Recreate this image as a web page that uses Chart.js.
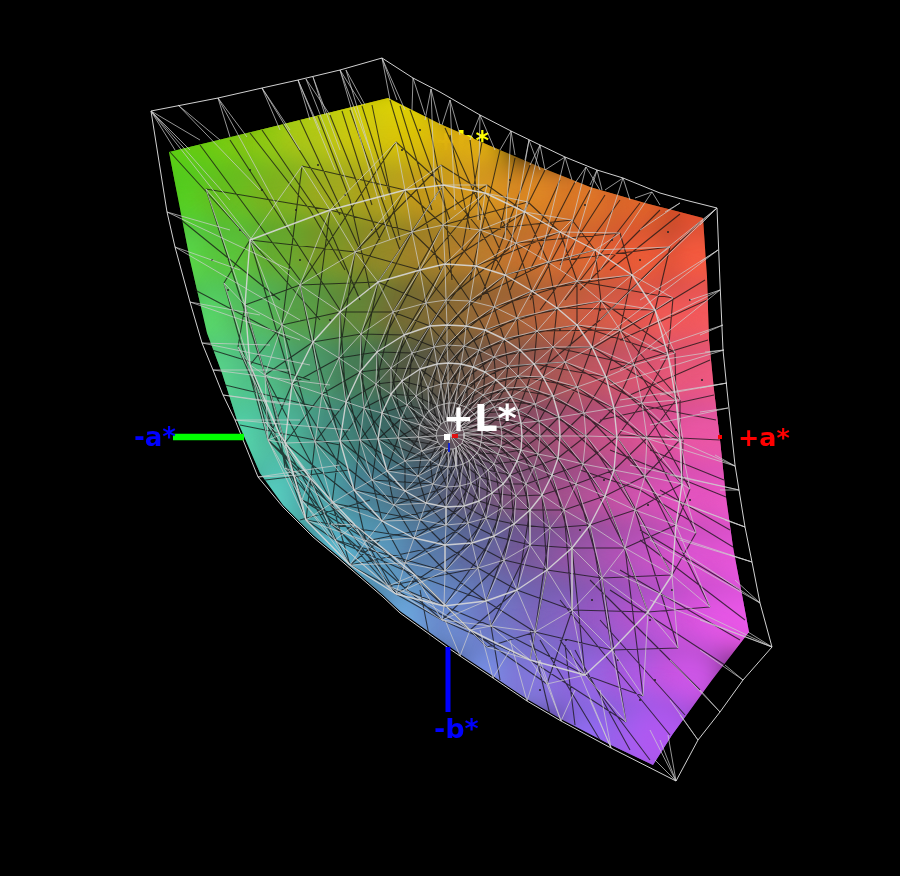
<!DOCTYPE html>
<html>
<head>
<meta charset="utf-8">
<title>Gamut</title>
<script src="https://cdn.jsdelivr.net/npm/chart.js@4/dist/chart.umd.min.js"></script>
<style>
  html, body { margin: 0; background: #000; }
  canvas { display: block; }
</style>
</head>
<body>
<canvas id="gamut" width="900" height="876"></canvas>
<script>
// all values, in picture units
var surfaceEdge = [169,152, 280,125, 388,98, 440,124, 493,147, 540,167, 590,187, 645,203, 703,218, 707,277, 709,340, 714,390, 720,440, 726,497, 733,547, 749,632, 712,680, 672,735, 653,765, 611,745, 561,719, 527,699, 493,676, 460,654, 400,611, 383,595, 337,555, 313,535, 283,505, 260,473, 237,420, 222,373, 207,333, 190,260];
var wireEdge = [151,111, 218,98, 262,88, 298,80, 340,70, 382,58, 413,78, 440,92, 480,115, 511,131, 540,145, 565,157, 597,170, 623,178, 660,193, 685,200, 717,208, 720,283, 723,350, 727,390, 735,465, 739,490, 745,527, 752,562, 760,603, 772,647, 743,680, 720,712, 698,740, 676,781, 611,748, 561,721, 527,701, 493,678, 460,656, 447,647, 400,613, 383,597, 337,557, 313,537, 283,507, 258,477, 235,420, 223,395, 213,370, 202,343, 190,302, 175,247, 167,212, 151,111];

var patchX = [300,350,400, 170,220,270,320,370,420,470, 190,240,290,340,390,440,490,540,590,640,700, 190,240,290,340,390,440,490,540,590,640,700, 215,265,315,365,415,465,515,565,615,665,710, 220,270,320,370,420,470,520,570,620,670,720, 245,295,345,395,445,495,545,595,645,695,735, 280,330,380,430,480,530,580,630,680,730, 340,390,440,490,540,590,640,690,740, 410,460,510,560,610,660,710,755, 490,540,590,640,690, 590,640,670];
var patchY = [120,120,120, 150,150,150,150,150,150,150, 200,200,200,200,200,200,200,200,200,200,200, 260,260,260,260,260,260,260,260,260,260,260, 320,320,320,320,320,320,320,320,320,320,320, 380,380,380,380,380,380,380,380,380,380,380, 440,440,440,440,440,440,440,440,440,440,440, 500,500,500,500,500,500,500,500,500,500, 560,560,560,560,560,560,560,560,560, 620,620,620,620,620,620,620,620, 680,680,680,680,680, 740,740,740];
var patchColor = ['#a8cf08','#ccd604','#e3da00',
  '#58cf10','#70cd10','#8ecb12','#b0c818','#cfc810','#dcc508','#e0b010',
  '#55d020','#67c020','#80b420','#a0ac20','#b4a41e','#c89c1c','#d89a20','#de8a24','#de7a28','#dd682a','#e04e26',
  '#58d84a','#5bc83c','#68ad30','#7e9a28','#958c28','#a8842a','#bc7e2e','#cc7430','#dc6a32','#ea5c36','#f45a3e',
  '#58d868','#56bf60','#5aa248','#648a3a','#786f35','#8c6b35','#a46838','#bf643e','#d85e48','#ee5a52','#f45a5c',
  '#5ad88c','#52c288','#4ea070','#477e58','#565a45','#6d5a48','#8c5a4e','#ae5a58','#ca5868','#e45877','#f05a80',
  '#55d8ac','#50bb9e','#468f82','#3c6c68','#555255','#72505e','#95506e','#ba5280','#d85492','#e856a2','#ec58a6',
  '#58d0c0','#4eaaac','#4b8398','#4f6a80','#635a7a','#84557e','#a85290','#c853a6','#e054bc','#ea56c4',
  '#5bbcd0','#5b9cc0','#5a7eac','#6268a0','#785a9c','#9856a8','#b854bc','#d854ce','#e656d8',
  '#6aa8dc','#6c8cd0','#7276c4','#8065c0','#9a5ac8','#bc55d4','#dc55e0','#ea58e8',
  '#7690e4','#8278dc','#9068e0','#aa5ce2','#cd56e6',
  '#906ef0','#9c62f0','#b058f0'];

// mesh rings, same vertex count, centre outwards
var meshCentre = [450,435];
var ring0 = [447,421, 450,421, 452,421, 454,422, 457,423, 459,424, 461,426, 462,428, 463,430, 464,433, 464,435, 464,438, 463,440, 462,443, 460,445, 458,446, 456,448, 453,449, 449,449, 445,448, 441,446, 438,442, 436,436, 437,431, 439,427, 441,424, 444,422];
var ringA = [444,404, 449,403, 455,403, 460,405, 466,407, 470,410, 474,414, 477,418, 480,424, 482,430, 482,435, 481,442, 480,447, 477,453, 473,457, 469,461, 463,464, 456,466, 448,467, 439,465, 430,460, 422,451, 418,437, 420,425, 424,417, 429,411, 437,406];
var ringAB = [441,384, 448,383, 458,384, 467,386, 475,390, 483,395, 490,401, 494,407, 499,417, 501,427, 502,436, 501,446, 498,454, 494,464, 488,470, 480,477, 471,483, 460,486, 447,487, 433,484, 418,476, 405,461, 398,438, 401,419, 407,405, 416,396, 428,388];
var ringB = [437,364, 448,363, 461,364, 473,367, 485,372, 496,380, 505,388, 511,397, 518,410, 521,423, 522,436, 521,450, 517,461, 510,475, 503,484, 492,493, 479,501, 464,506, 446,507, 426,503, 405,491, 387,471, 378,439, 382,413, 391,394, 402,381, 420,369];
var ringBC = [434,347, 447,345, 464,346, 479,350, 494,357, 508,366, 518,376, 527,387, 535,404, 539,421, 540,436, 538,454, 534,467, 526,484, 516,496, 502,508, 486,518, 468,523, 446,525, 420,520, 394,505, 372,480, 360,440, 364,408, 376,384, 391,368, 412,353];
var ringC = [430,326, 447,325, 466,326, 485,330, 504,339, 520,350, 534,364, 543,377, 553,396, 559,417, 560,436, 558,458, 552,475, 542,495, 530,510, 514,524, 494,536, 472,543, 445,545, 414,538, 382,521, 354,490, 340,441, 346,402, 360,372, 377,352, 404,335];
var ringCD = [426,303, 446,300, 470,301, 494,307, 517,318, 537,331, 553,347, 565,362, 577,387, 584,413, 586,436, 583,464, 576,484, 564,510, 550,528, 530,545, 504,560, 478,568, 445,571, 405,563, 366,541, 332,503, 315,442, 322,394, 339,358, 361,334, 393,312];
var ringD = [420,270, 445,264, 476,266, 505,275, 532,291, 557,308, 577,325, 592,347, 606,377, 614,408, 617,437, 614,470, 605,496, 590,525, 572,548, 547,570, 517,590, 486,601, 444,606, 396,594, 350,565, 306,520, 285,443, 292,384, 313,342, 340,312, 378,282];
var ringDE = [412,232, 443,225, 480,230, 516,243, 548,262, 577,281, 601,301, 620,330, 634,365, 642,403, 647,438, 645,476, 635,510, 625,548, 602,578, 572,610, 535,632, 491,626, 442,620, 388,586, 335,540, 302,500, 268,440, 265,375, 282,325, 300,285, 355,252];
var ringE = [405,190, 443,185, 485,193, 525,212, 560,232, 595,250, 632,275, 655,310, 668,355, 676,400, 680,440, 682,484, 676,525, 672,575, 648,612, 612,650, 585,675, 530,660, 470,630, 415,575, 355,525, 310,478, 280,435, 250,365, 245,305, 250,240, 330,210];
var ringF = [396,142, 441,165, 487,185, 528,202, 572,220, 620,233, 670,247, 673,298, 675,353, 680,400, 683,440, 690,489, 696,533, 710,607, 678,648, 643,696, 626,722, 547,684, 487,647, 406,590, 331,524, 285,468, 265,422, 238,347, 224,283, 206,189, 302,166];
var meshRings = [ring0, ringA, ringAB, ringB, ringBC, ringC, ringCD, ringD, ringDE, ringE, ringF];
var boldRings = [ringB, ringC, ringD, ringE];

// apex on the outer wire, then the points it fans out to
var wireFans = [
  [151,111, 190,150, 230,200, 175,150, 260,250, 200,140],
  [178,105, 220,140, 260,190],
  [218,98, 247,137, 230,137, 290,230],
  [262,88, 290,130, 300,150, 280,130],
  [298,80, 320,130, 335,170, 310,120],
  [306,79, 330,115, 350,190],
  [313,77, 325,115, 340,150],
  [340,70, 362,105, 370,150, 390,240],
  [346,70, 365,105, 385,200],
  [382,58, 397,100, 405,110, 390,100],
  [413,78, 412,110, 425,115],
  [431,89, 425,120, 440,125, 435,200],
  [450,100, 442,125, 460,135, 455,210],
  [480,115, 470,140, 495,150, 478,220],
  [511,131, 500,150, 515,155, 505,240],
  [529,140, 525,160, 540,170, 510,250],
  [540,145, 530,165, 545,170, 520,230],
  [565,157, 545,170, 572,180, 540,260],
  [586,167, 575,183, 600,190, 560,270],
  [597,170, 590,185, 602,190, 570,260],
  [623,178, 605,190, 630,200, 590,280],
  [652,192, 635,198, 660,205, 600,270],
  [680,203, 665,212, 640,230],
  [717,208, 700,225, 640,270, 600,320, 680,240],
  [718,250, 700,262, 640,300, 600,340],
  [720,290, 690,300, 640,330, 620,370],
  [723,325, 700,335, 650,350],
  [724,350, 705,352, 660,360, 610,385],
  [727,383, 700,388, 660,395, 620,400],
  [728,408, 700,412, 650,425],
  [735,466, 715,455, 665,435, 620,430],
  [739,490, 720,490, 670,475, 630,465],
  [745,527, 725,520, 675,500, 620,480],
  [752,562, 730,555, 680,540, 640,525],
  [760,603, 735,580, 680,550, 650,540],
  [772,647, 748,632, 700,620, 650,600, 610,570],
  [743,680, 725,665, 700,650],
  [720,712, 700,690, 670,660],
  [698,740, 680,715, 670,700],
  [676,781, 660,740, 655,760, 650,730, 668,735],
  [611,748, 590,700, 570,650, 600,690],
  [561,721, 540,660, 575,690, 530,640],
  [527,701, 510,640, 540,660],
  [493,678, 480,630, 510,650],
  [460,656, 445,620, 470,630],
  [258,477, 300,475, 340,465],
  [235,420, 300,420, 350,430],
  [223,395, 290,405, 340,410],
  [213,370, 290,370, 330,385],
  [202,343, 270,345, 310,365],
  [190,302, 260,315, 300,340],
  [175,247, 240,270, 300,320],
  [167,212, 230,230, 290,270]
];

var darkLines = [
  [170,152, 250,240, 320,320], [200,145, 300,280], [230,140, 340,310], [262,130, 330,230, 360,300],
  [300,120, 360,250], [330,115, 380,240], [350,110, 400,250], [372,105, 400,240], [390,100, 420,200, 440,270],
  [410,110, 450,220], [450,135, 470,230], [470,140, 480,220], [500,150, 470,280], [530,165, 480,300],
  [560,180, 510,290], [590,190, 530,300], [620,200, 540,310], [660,210, 580,290], [700,222, 600,320, 540,370],
  [705,280, 590,350], [708,340, 610,370], [714,395, 600,420], [720,440, 620,435], [726,497, 610,450],
  [733,547, 640,490, 580,470], [745,620, 640,540], [740,640, 620,570], [700,690, 590,580], [670,735, 560,600],
  [650,760, 560,640], [600,740, 540,640], [550,715, 530,630], [500,680, 490,620], [430,640, 420,590],
  [350,565, 380,540], [300,520, 370,500], [265,480, 350,470], [240,425, 340,445], [225,385, 330,410],
  [212,350, 310,380], [195,290, 290,340], [175,215, 280,300],
  [250,133, 310,210, 345,270], [283,124, 340,215], [318,116, 350,200, 370,290], [342,111, 372,205], [362,106, 390,195],
  [400,106, 432,210], [428,118, 445,205, 452,280], [445,128, 500,250], [482,142, 462,250], [515,158, 500,230],
  [545,170, 495,270], [575,182, 530,270], [605,195, 560,265], [640,203, 565,300], [680,214, 610,270],
  [707,300, 620,340], [710,360, 630,395], [716,420, 640,405], [724,480, 650,450], [730,530, 660,490],
  [740,590, 640,530], [725,665, 610,590], [685,715, 600,620], [630,750, 575,650], [575,725, 565,645]
];

var speckX = [250,262,296,318,345,372,402,432,468,510,548,585,612,640,668,690,702,676,648,622,592,566,540,618,650,672,690,604,580,640,300,330,240,228,212,388,420,560,600,655];
var speckY = [170,190,210,165,195,230,150,175,215,180,235,205,240,260,232,300,380,430,505,540,600,640,690,660,620,590,500,480,530,700,260,320,230,290,260,280,130,330,310,680];

var axisGreenX = [173,244], axisGreenY = [437,437];
var axisBlueX = [448,448], axisBlueY = [647,712];
var axisRedX = [718,722], axisRedY = [437,437];
var originWhiteX = [444,450], originWhiteY = [437,437];
var originRedX = [452,458], originRedY = [436,436];
var originBlueX = [449,449], originBlueY = [443,452];

var axisLabels = ['-a*', '+a*', '-b*', '+L*'];
var axisLabelX = [134, 738, 434, 443];
var axisLabelY = [446, 446, 738, 431];
var axisLabelColor = ['#0000ff', '#ff0000', '#0000ff', '#ffffff'];
var axisLabelSize = [26, 25.5, 27, 37];
var hiddenLabel = '+b*';

function pts(flat) {
  var out = [];
  for (var i = 0; i < flat.length; i += 2) out.push({ x: flat[i], y: flat[i + 1] });
  return out;
}

function zip(xs, ys) {
  return xs.map(function (x, i) { return { x: x, y: ys[i] }; });
}

var GAP = { x: NaN, y: NaN };

function vertex(ring, i) {
  var n = ring.length / 2;
  var k = ((i % n) + n) % n;
  return { x: ring[k * 2], y: ring[k * 2 + 1] };
}

var ringSegs = [], whiteSegs = [], darkSegs = [];
function seg(list, a, b) { list.push(a, b, GAP); }

var centre = { x: meshCentre[0], y: meshCentre[1] };
var lastRing = meshRings.length - 1;
meshRings.forEach(function (ring, r) {
  var n = ring.length / 2;
  for (var j = 0; j < n; j++) {
    if (r === 0 && j % 2 === 0) seg(whiteSegs, centre, vertex(ring, j));
    if (r < lastRing) seg(boldRings.indexOf(ring) >= 0 ? ringSegs : whiteSegs, vertex(ring, j), vertex(ring, j + 1));
    if (r < lastRing) {
      var next = meshRings[r + 1];
      seg(whiteSegs, vertex(ring, j), vertex(next, j));
      seg(whiteSegs, vertex(ring, j), vertex(next, j + 1));
      seg(darkSegs, vertex(ring, j), vertex(next, j - 1));
    }
    if (r < lastRing - 1) seg(darkSegs, vertex(ring, j), vertex(meshRings[r + 2], j + 2));
  }
});

wireFans.forEach(function (fan) {
  var apex = { x: fan[0], y: fan[1] };
  pts(fan.slice(2)).forEach(function (p) { seg(whiteSegs, apex, p); });
});

darkLines.forEach(function (line) {
  pts(line).forEach(function (p) { darkSegs.push(p); });
  darkSegs.push(GAP);
});

function lineSet(data, color, width, order) {
  return {
    data: data, showLine: true, borderColor: color, borderWidth: width,
    pointRadius: 0, spanGaps: false, order: order, borderCapStyle: 'butt'
  };
}

var surfacePlugin = {
  id: 'surface',
  beforeDatasetsDraw: function (chart) {
    // the hidden +b* sits behind the surface
    var ctx = chart.ctx, sx = chart.scales.x, sy = chart.scales.y;
    ctx.save();
    ctx.font = 'bold 26px "DejaVu Sans"';
    ctx.fillStyle = '#ffff00';
    ctx.fillText(hiddenLabel, sx.getPixelForValue(435), sy.getPixelForValue(150));
    ctx.restore();
  },
  beforeDatasetDraw: function (chart, args) {
    if (args.index !== 0) return;
    var ctx = chart.ctx, sx = chart.scales.x, sy = chart.scales.y;
    ctx.save();
    ctx.beginPath();
    pts(surfaceEdge).forEach(function (p, i) {
      var px = sx.getPixelForValue(p.x), py = sy.getPixelForValue(p.y);
      if (i === 0) ctx.moveTo(px, py); else ctx.lineTo(px, py);
    });
    ctx.closePath();
    ctx.clip();
    ctx.filter = 'blur(14px)';
  },
  afterDatasetDraw: function (chart, args) {
    if (args.index === 0) chart.ctx.restore();
  },
  afterDatasetsDraw: function (chart) {
    var ctx = chart.ctx, sx = chart.scales.x, sy = chart.scales.y;
    ctx.save();
    axisLabels.forEach(function (text, i) {
      ctx.font = 'bold ' + axisLabelSize[i] + 'px "DejaVu Sans"';
      ctx.fillStyle = axisLabelColor[i];
      ctx.fillText(text, sx.getPixelForValue(axisLabelX[i]), sy.getPixelForValue(axisLabelY[i]));
    });
    ctx.restore();
  }
};

new Chart(document.getElementById('gamut'), {
  type: 'scatter',
  data: {
    datasets: [
      {
        data: zip(patchX, patchY), pointRadius: 42, pointHoverRadius: 42, borderWidth: 0,
        pointBackgroundColor: patchColor, pointBorderWidth: 0, order: 10
      },
      lineSet(darkSegs, 'rgba(20,20,20,0.75)', 1.1, 9),
      lineSet(whiteSegs, 'rgba(205,205,205,0.72)', 1, 8),
      lineSet(ringSegs, 'rgba(215,215,215,0.9)', 1.4, 7.5),
      lineSet(pts(wireEdge), 'rgba(220,220,220,0.95)', 1, 7),
      {
        data: zip(speckX, speckY), pointRadius: 1, pointBackgroundColor: '#222222',
        pointBorderWidth: 0, order: 8.5
      },
      lineSet(zip(axisGreenX, axisGreenY), '#00ff00', 6.5, 6),
      lineSet(zip(axisBlueX, axisBlueY), '#0000ff', 5, 6),
      lineSet(zip(axisRedX, axisRedY), '#ff0000', 4, 6),
      lineSet(zip(originWhiteX, originWhiteY), '#ffffff', 6, 5),
      lineSet(zip(originRedX, originRedY), '#e01010', 4, 5),
      lineSet(zip(originBlueX, originBlueY), '#1020d0', 2, 5)
    ]
  },
  options: {
    responsive: false,
    animation: false,
    layout: { padding: 0, autoPadding: false },
    plugins: { legend: { display: false }, tooltip: { enabled: false } },
    scales: {
      x: { type: 'linear', min: 0, max: 900, display: false },
      y: { type: 'linear', min: 0, max: 876, reverse: true, display: false }
    }
  },
  plugins: [surfacePlugin]
});
</script>
</body>
</html>
